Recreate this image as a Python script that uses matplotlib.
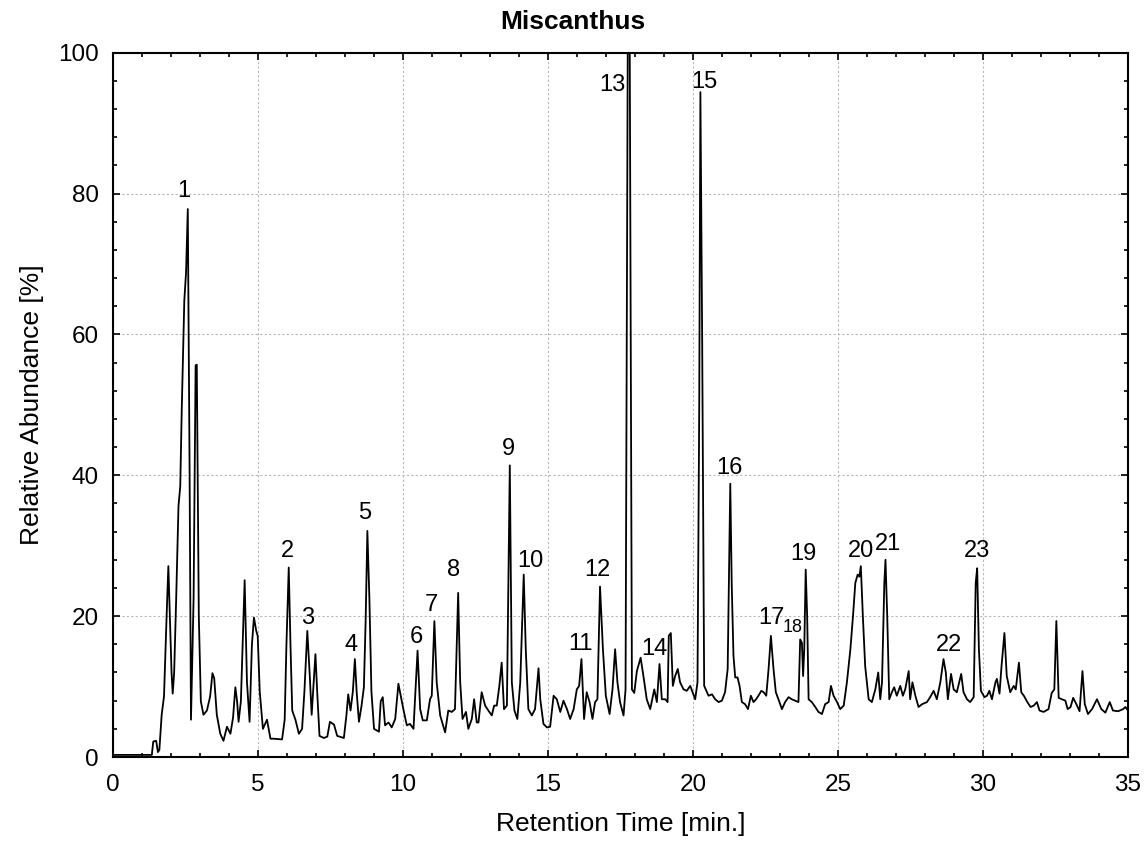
import matplotlib
matplotlib.use("Agg")
import matplotlib.pyplot as plt
from matplotlib.ticker import MultipleLocator

plt.rcParams['font.family'] = ['Liberation Sans', 'DejaVu Sans']

# ---- data ----
retention_time = [
    0.00, 1.35, 1.40, 1.50, 1.56, 1.61, 1.69, 1.77, 1.86, 1.92, 1.97, 2.03, 2.07, 2.12, 2.19, 2.27,
    2.33, 2.38, 2.47, 2.53, 2.59, 2.65, 2.70, 2.79, 2.86, 2.90, 2.97, 3.04, 3.13, 3.25, 3.36, 3.44,
    3.50, 3.59, 3.71, 3.82, 3.94, 4.06, 4.15, 4.23, 4.29, 4.34, 4.42, 4.55, 4.63, 4.72, 4.80, 4.87,
    4.95, 5.00, 5.07, 5.18, 5.32, 5.44, 5.55, 5.84, 5.93, 5.99, 6.07, 6.13, 6.19, 6.30, 6.42, 6.53,
    6.61, 6.71, 6.79, 6.86, 6.94, 6.99, 7.05, 7.13, 7.28, 7.40, 7.49, 7.63, 7.74, 7.97, 8.06, 8.12,
    8.20, 8.28, 8.35, 8.41, 8.49, 8.58, 8.66, 8.72, 8.78, 8.85, 8.92, 9.01, 9.18, 9.24, 9.31, 9.39,
    9.51, 9.62, 9.74, 9.85, 9.93, 10.02, 10.14, 10.25, 10.37, 10.51, 10.60, 10.69, 10.83, 10.94,
    11.00, 11.09, 11.17, 11.29, 11.46, 11.57, 11.69, 11.80, 11.91, 11.98, 12.06, 12.18, 12.26,
    12.38, 12.46, 12.55, 12.61, 12.72, 12.84, 12.95, 13.07, 13.15, 13.24, 13.33, 13.41, 13.49,
    13.59, 13.69, 13.76, 13.85, 13.95, 14.05, 14.17, 14.24, 14.33, 14.45, 14.56, 14.68, 14.74,
    14.85, 14.97, 15.08, 15.20, 15.31, 15.43, 15.54, 15.66, 15.77, 15.89, 16.00, 16.08, 16.16,
    16.25, 16.34, 16.44, 16.54, 16.63, 16.71, 16.80, 16.90, 17.00, 17.13, 17.23, 17.32, 17.40,
    17.49, 17.61, 17.68, 17.76, 17.82, 17.90, 17.98, 18.07, 18.20, 18.31, 18.41, 18.53, 18.67,
    18.76, 18.85, 18.93, 19.05, 19.13, 19.17, 19.24, 19.31, 19.39, 19.48, 19.56, 19.68, 19.79,
    19.91, 20.08, 20.16, 20.22, 20.26, 20.32, 20.39, 20.54, 20.66, 20.77, 20.89, 21.00, 21.11,
    21.20, 21.29, 21.34, 21.40, 21.46, 21.54, 21.61, 21.69, 21.80, 21.90, 22.00, 22.09, 22.18,
    22.26, 22.36, 22.44, 22.53, 22.61, 22.69, 22.78, 22.86, 22.95, 23.07, 23.18, 23.30, 23.41,
    23.53, 23.64, 23.70, 23.76, 23.80, 23.84, 23.89, 23.94, 23.99, 24.10, 24.22, 24.33, 24.45,
    24.56, 24.68, 24.76, 24.85, 24.97, 25.08, 25.20, 25.31, 25.43, 25.52, 25.60, 25.68, 25.74,
    25.79, 25.86, 25.94, 26.06, 26.17, 26.29, 26.39, 26.46, 26.52, 26.60, 26.64, 26.70, 26.77,
    26.86, 26.94, 27.03, 27.15, 27.24, 27.32, 27.44, 27.49, 27.57, 27.67, 27.78, 27.90, 28.07,
    28.18, 28.30, 28.41, 28.53, 28.64, 28.72, 28.79, 28.90, 28.99, 29.10, 29.25, 29.33, 29.45,
    29.56, 29.68, 29.75, 29.80, 29.86, 29.93, 30.05, 30.14, 30.22, 30.31, 30.43, 30.48, 30.57,
    30.64, 30.74, 30.82, 30.94, 31.06, 31.13, 31.24, 31.32, 31.41, 31.53, 31.64, 31.75, 31.86,
    31.95, 32.09, 32.26, 32.37, 32.46, 32.53, 32.61, 32.72, 32.84, 32.92, 33.02, 33.11, 33.22,
    33.33, 33.43, 33.51, 33.62, 33.76, 33.93, 34.08, 34.22, 34.37, 34.48, 34.66, 34.83, 34.91,
    35.00,
]
abundance = [
    0.3, 0.3, 2.2, 2.3, 0.7, 1.0, 6.0, 8.6, 20.0, 27.1, 20.0, 12.0, 9.0, 12.0, 22.5, 35.7,
    38.4, 49.0, 64.8, 68.8, 77.8, 42.0, 5.3, 22.5, 55.6, 55.7, 20.0, 7.9, 6.0, 6.6, 8.6, 11.9,
    11.2, 6.0, 3.3, 2.3, 4.3, 3.3, 5.6, 9.9, 7.9, 5.0, 7.9, 25.1, 10.6, 5.0, 15.9, 19.8,
    17.9, 17.2, 9.3, 4.0, 5.3, 2.6, 2.6, 2.5, 5.3, 15.9, 26.9, 15.9, 6.6, 5.3, 3.3, 4.0,
    9.3, 17.9, 11.9, 6.0, 11.2, 14.6, 9.3, 3.0, 2.7, 2.9, 5.0, 4.6, 3.0, 2.7, 6.0, 8.9,
    6.6, 9.3, 13.9, 9.3, 5.0, 7.3, 9.9, 19.2, 32.1, 22.5, 9.3, 4.0, 3.6, 7.9, 8.5, 4.5,
    4.9, 4.2, 5.4, 10.4, 8.7, 6.8, 4.5, 4.7, 4.0, 15.1, 6.8, 5.2, 5.2, 8.2,
    8.7, 19.3, 10.6, 5.9, 3.5, 6.6, 6.4, 6.8, 23.3, 10.6, 5.4, 6.4, 4.0,
    5.4, 8.2, 4.9, 4.9, 9.2, 7.3, 6.6, 5.9, 7.3, 7.3, 10.1, 13.4, 6.8,
    7.3, 41.4, 10.6, 6.6, 5.4, 10.6, 25.9, 15.3, 6.8, 5.9, 6.8, 12.6, 8.2,
    4.7, 4.2, 4.3, 8.7, 8.2, 6.4, 8.0, 6.8, 5.4, 6.8, 9.6, 10.1, 13.9,
    5.4, 9.2, 7.8, 5.4, 7.8, 8.2, 24.2, 15.3, 8.7, 6.1, 9.6, 15.3, 10.6,
    7.8, 5.9, 9.6, 106.0, 106.0, 9.6, 9.1, 12.2, 14.1, 11.1, 8.2, 6.8, 9.6,
    7.8, 13.2, 8.2, 8.2, 7.8, 17.2, 17.6, 10.1, 11.5, 12.5, 10.6, 9.6, 9.4,
    10.1, 8.2, 10.6, 50.0, 94.4, 60.0, 10.1, 8.7, 8.9, 8.2, 7.8, 8.0, 9.2,
    12.5, 38.8, 24.5, 14.4, 11.3, 11.3, 10.1, 7.8, 7.5, 6.8, 8.7, 7.8, 8.2,
    8.7, 9.4, 9.2, 8.7, 12.5, 17.2, 12.5, 9.2, 8.2, 6.8, 7.8, 8.5, 8.2,
    8.0, 7.8, 16.7, 16.2, 11.5, 15.3, 26.6, 20.0, 8.2, 7.8, 7.1, 6.4, 6.1,
    7.5, 7.8, 10.1, 8.7, 7.8, 6.8, 7.3, 10.6, 15.3, 20.0, 24.7, 25.9, 25.6,
    27.1, 20.0, 12.9, 8.2, 7.8, 9.6, 12.0, 8.2, 10.6, 24.7, 28.0, 20.0, 8.2,
    9.2, 9.9, 8.7, 10.1, 8.7, 9.6, 12.2, 8.2, 10.6, 8.7, 7.1, 7.5, 7.8,
    8.5, 9.4, 8.2, 10.6, 13.9, 12.0, 8.2, 11.8, 9.6, 9.2, 11.8, 9.2, 8.2,
    7.8, 8.5, 24.7, 26.8, 15.3, 9.4, 8.5, 8.7, 9.4, 8.2, 10.6, 11.1, 9.0,
    12.9, 17.6, 11.5, 9.2, 10.1, 9.6, 13.4, 9.2, 8.7, 7.8, 7.1, 7.3, 7.8,
    6.6, 6.4, 6.8, 9.1, 9.6, 19.3, 8.4, 8.2, 8.0, 6.8, 7.1, 8.4, 7.5,
    6.5, 12.2, 7.5, 6.1, 6.8, 8.2, 6.8, 6.3, 7.8, 6.6, 6.5, 6.8, 7.1,
    6.6,
]

peak_labels = ['1', '2', '3', '4', '5', '6', '7', '8', '9', '10', '11', '12',
               '13', '14', '15', '16', '17', '18', '19', '20', '21', '22', '23']
label_x = [2.44, 6.01, 6.73, 8.23, 8.69, 10.48, 11.00, 11.75, 13.66, 14.41, 16.14, 16.71,
           17.22, 18.68, 20.38, 21.26, 22.70, 23.43, 23.82, 25.80, 26.71, 28.84, 29.79]
label_y = [80.4, 29.3, 19.8, 15.9, 34.7, 17.1, 21.6, 26.5, 43.8, 27.9, 16.0, 26.5,
           95.4, 15.3, 95.9, 41.1, 19.8, 18.4, 28.8, 29.2, 30.3, 15.9, 29.2]

fig = plt.figure(figsize=(11.46, 8.43), dpi=100)
ax = fig.add_axes([0.0983, 0.102, 0.8860, 0.8355])

ax.plot(retention_time, abundance, color='black', lw=1.3)

ax.set_xlim(0, 35)
ax.set_ylim(0, 100)
ax.xaxis.set_major_locator(MultipleLocator(5))
ax.xaxis.set_minor_locator(MultipleLocator(1))
ax.yaxis.set_major_locator(MultipleLocator(20))
ax.yaxis.set_minor_locator(MultipleLocator(4))
ax.tick_params(which='both', direction='in', top=True, right=True, labelsize=17.5,
               width=1.2, color='black')
ax.tick_params(which='major', length=5)
ax.tick_params(axis='x', which='major', pad=12)
ax.tick_params(axis='y', which='major', pad=10)
ax.tick_params(which='minor', length=3)
ax.grid(True, which='major', color='#b8b8b8', linestyle=(0, (2, 2)), linewidth=0.8)
for s in ax.spines.values():
    s.set_linewidth(1.5)

for lab, lx, ly in zip(peak_labels, label_x, label_y):
    ax.text(lx, ly, lab, ha='center', va='center',
            fontsize=13 if lab == '18' else 17)

ax.set_xlabel('Retention Time [min.]', fontsize=19, labelpad=12)
ax.set_ylabel('Relative Abundance [%]', fontsize=19, labelpad=10)
fig.text(0.5, 0.974, 'Miscanthus', ha='center', va='center', fontsize=19, fontweight='bold')

fig.savefig('out.png', dpi=100)
